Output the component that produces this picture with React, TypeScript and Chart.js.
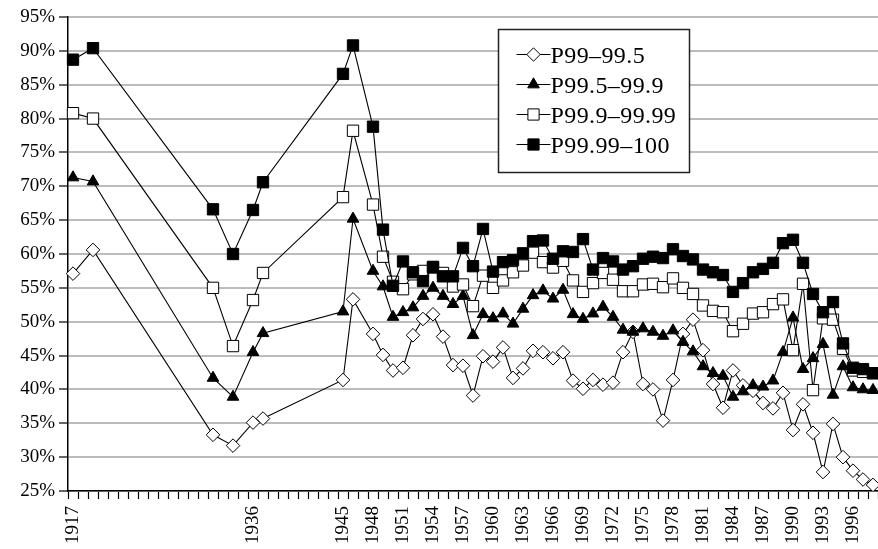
import React, { useEffect, useRef } from 'react';
import { Chart, registerables } from 'chart.js';

Chart.register(...registerables);

// Category axis (one slot per row of the source table)
const categories: string[] = [
  '1917', '1919', '1920', '1921', '1922', '1923', '1924', '1925', '1926', '1927',
  '1928', '1929', '1930', '1931', '1932', '1933', '1934', '1935', '1936', '1937',
  '1938', '1939', '1940', '1941', '1942', '1943', '1944', '1945', '1946', '1947',
  '1948', '1949', '1950', '1951', '1952', '1953', '1954', '1955', '1956', '1957',
  '1958', '1959', '1960', '1961', '1962', '1963', '1964', '1965', '1966', '1967',
  '1968', '1969', '1970', '1971', '1972', '1973', '1974', '1975', '1976', '1977',
  '1978', '1979', '1980', '1981', '1982', '1983', '1984', '1985', '1986', '1987',
  '1988', '1989', '1990', '1991', '1992', '1993', '1994', '1995', '1996', '1997',
  '1998',
];

// Labels that are actually printed under the axis
const tickLabels: string[] = [
  '1917', '1936', '1945', '1948', '1951', '1954', '1957', '1960', '1963', '1966',
  '1969', '1972', '1975', '1978', '1981', '1984', '1987', '1990', '1993', '1996',
];

// Years with data
const dataYears: number[] = [
  1917, 1920, 1932, 1934, 1936, 1937, 1945, 1946, 1948, 1949,
  1950, 1951, 1952, 1953, 1954, 1955, 1956, 1957, 1958, 1959,
  1960, 1961, 1962, 1963, 1964, 1965, 1966, 1967, 1968, 1969,
  1970, 1971, 1972, 1973, 1974, 1975, 1976, 1977, 1978, 1979,
  1980, 1981, 1982, 1983, 1984, 1985, 1986, 1987, 1988, 1989,
  1990, 1991, 1992, 1993, 1994, 1995, 1996, 1997, 1998,
];

const p99_995: number[] = [
  57.1, 60.6, 33.3, 31.7, 35.1, 35.7, 41.4, 53.3, 48.2, 45.1,
  42.8, 43.2, 48.0, 50.4, 51.1, 47.8, 43.6, 43.5, 39.1, 44.9,
  44.1, 46.2, 41.7, 43.1, 45.7, 45.5, 44.6, 45.5, 41.3, 40.1,
  41.4, 40.7, 41.0, 45.5, 48.5, 40.8, 40.0, 35.4, 41.4, 48.2,
  50.3, 45.8, 40.8, 37.3, 42.8, 40.6, 39.8, 38.0, 37.2, 39.5,
  34.0, 37.8, 33.6, 27.8, 34.9, 30.0, 28.0, 26.7, 25.9,
];

const p995_999: number[] = [
  71.3, 70.7, 41.7, 38.9, 45.5, 48.3, 51.5, 65.2, 57.5, 55.2,
  50.7, 51.4, 52.1, 53.8, 55.0, 53.8, 52.6, 53.8, 48.0, 51.1,
  50.5, 51.2, 49.7, 51.9, 53.9, 54.6, 53.4, 54.7, 51.1, 50.4,
  51.2, 52.2, 50.7, 48.8, 48.5, 49.0, 48.5, 47.9, 48.7, 47.0,
  45.6, 43.4, 42.4, 42.0, 38.9, 39.7, 40.6, 40.4, 41.3, 45.5,
  50.6, 43.0, 44.6, 46.7, 39.2, 43.4, 40.3, 40.0, 39.9,
];

const p999_9999: number[] = [
  80.8, 80.0, 55.0, 46.4, 53.2, 57.2, 68.4, 78.2, 67.3, 59.6,
  55.9, 54.8, 57.0, 57.5, 58.0, 57.2, 55.2, 55.5, 52.3, 56.8,
  55.0, 56.1, 57.3, 58.3, 60.2, 58.8, 58.0, 59.0, 56.1, 54.4,
  55.7, 57.2, 56.2, 54.5, 54.5, 55.5, 55.6, 55.1, 56.4, 55.0,
  54.1, 52.4, 51.6, 51.4, 48.6, 49.7, 51.2, 51.4, 52.6, 53.3,
  45.8, 55.6, 39.9, 50.5, 50.3, 46.0, 42.8, 42.6, 42.4,
];

const p9999_100: number[] = [
  88.7, 90.4, 66.6, 60.0, 66.5, 70.6, 86.6, 90.8, 78.8, 63.6,
  55.3, 58.9, 57.3, 56.0, 58.1, 56.7, 56.7, 60.9, 58.2, 63.7,
  57.4, 58.8, 59.1, 60.1, 61.9, 62.0, 59.3, 60.4, 60.3, 62.2,
  57.7, 59.4, 58.9, 57.7, 58.2, 59.3, 59.6, 59.4, 60.7, 59.7,
  59.2, 57.7, 57.3, 56.9, 54.4, 55.7, 57.3, 57.8, 58.7, 61.6,
  62.1, 58.7, 54.1, 51.4, 52.9, 46.8, 43.2, 43.0, 42.4,
];

const seriesNames: string[] = ['P99–99.5', 'P99.5–99.9', 'P99.9–99.99', 'P99.99–100'];

const FONT = "'Liberation Serif', 'DejaVu Serif', serif";

function toSeries(values: number[]): (number | null)[] {
  return categories.map((c) => {
    const i = dataYears.indexOf(Number(c));
    return i >= 0 ? values[i] : null;
  });
}

function drawMarker(ctx: CanvasRenderingContext2D, kind: number, cx: number, cy: number) {
  ctx.beginPath();
  if (kind === 0) {
    const r = 6.7;
    ctx.moveTo(cx - r, cy);
    ctx.lineTo(cx, cy - r);
    ctx.lineTo(cx + r, cy);
    ctx.lineTo(cx, cy + r);
    ctx.closePath();
    ctx.fillStyle = '#fff';
  } else if (kind === 1) {
    const r = 6.7;
    ctx.moveTo(cx, cy - r);
    ctx.lineTo(cx + r * Math.sin((2 * Math.PI) / 3), cy + r * 0.5);
    ctx.lineTo(cx - r * Math.sin((2 * Math.PI) / 3), cy + r * 0.5);
    ctx.closePath();
    ctx.fillStyle = '#000';
  } else {
    const s = 5.6;
    ctx.rect(cx - s, cy - s, 2 * s, 2 * s);
    ctx.fillStyle = kind === 2 ? '#fff' : '#000';
  }
  ctx.fill();
  ctx.strokeStyle = '#000';
  ctx.lineWidth = 1;
  ctx.stroke();
}

const boxLegend = {
  id: 'boxLegend',
  afterDraw(chart: any) {
    const { ctx, chartArea } = chart;
    const left = Math.round(chartArea.left + chartArea.width * 0.531) + 0.5;
    const top = Math.round(chartArea.top + 12) + 0.5;
    const w = 191;
    const h = 143;
    ctx.save();
    ctx.fillStyle = '#fff';
    ctx.fillRect(left, top, w, h);
    ctx.strokeStyle = '#222';
    ctx.lineWidth = 1.5;
    ctx.strokeRect(left, top, w, h);
    seriesNames.forEach((name, i) => {
      const cy = top + 25 + i * 30;
      ctx.beginPath();
      ctx.strokeStyle = '#000';
      ctx.lineWidth = 1;
      ctx.moveTo(left + 18, cy);
      ctx.lineTo(left + 52, cy);
      ctx.stroke();
      drawMarker(ctx, i, left + 35, cy);
      ctx.fillStyle = '#000';
      ctx.font = `24px ${FONT}`;
      try { (ctx as any).letterSpacing = '0.4px'; } catch (e) { /* ignore */ }
      ctx.textBaseline = 'middle';
      ctx.textAlign = 'left';
      ctx.fillText(name, left + 52, cy + 2);
      try { (ctx as any).letterSpacing = '0px'; } catch (e) { /* ignore */ }
    });
    ctx.restore();
  },
};

export default function App() {
  const canvasRef = useRef<HTMLCanvasElement | null>(null);

  useEffect(() => {
    if (!canvasRef.current) return;
    Chart.defaults.font.family = FONT;
    Chart.defaults.color = '#000';

    const common = {
      borderColor: '#000',
      borderWidth: 1.1,
      pointBorderColor: '#000',
      pointBorderWidth: 1,
      spanGaps: true,
      tension: 0,
    };

    const chart = new Chart(canvasRef.current, {
      type: 'line',
      data: {
        labels: categories,
        datasets: [
          { ...common, label: seriesNames[0], data: toSeries(p99_995), pointStyle: 'rectRot', pointRadius: 6.8, pointBackgroundColor: '#fff', order: 4 },
          { ...common, label: seriesNames[1], data: toSeries(p995_999), pointStyle: 'triangle', pointRadius: 6.7, pointBackgroundColor: '#000', order: 3 },
          { ...common, label: seriesNames[2], data: toSeries(p999_9999), pointStyle: 'rect', pointRadius: 8, pointBackgroundColor: '#fff', order: 2 },
          { ...common, label: seriesNames[3], data: toSeries(p9999_100), pointStyle: 'rect', pointRadius: 8, pointBackgroundColor: '#000', order: 1 },
        ],
      },
      options: {
        responsive: false,
        animation: false,
        events: [],
        layout: { autoPadding: false, padding: { top: 17, right: 0, left: 0, bottom: 0 } },
        plugins: {
          legend: { display: false },
          tooltip: { enabled: false },
        },
        scales: {
          x: {
            type: 'category',
            offset: true,
            grid: {
              offset: true,
              drawOnChartArea: false,
              drawTicks: true,
              tickLength: 8,
              tickColor: '#000',
              tickWidth: 1.2,
              color: '#000',
            },
            border: { color: '#000', width: 1.5 },
            ticks: {
              autoSkip: false,
              maxRotation: 90,
              minRotation: 90,
              padding: 7,
              font: { size: 19, family: FONT },
              color: '#000',
              callback: (_v: any, index: number) => {
                const lab = categories[index];
                return tickLabels.includes(lab) ? lab : '';
              },
            },
            afterFit: (scale: any) => {
              scale.height = 58;
              scale.paddingLeft = 0;
              scale.paddingRight = 0;
            },
          },
          y: {
            min: 25,
            max: 95,
            ticks: {
              stepSize: 5,
              padding: 4,
              font: { size: 19, family: FONT },
              color: '#000',
              callback: (v: any) => `${v}%`,
            },
            grid: {
              color: '#bcbcbc',
              lineWidth: 2,
              tickLength: 9,
              tickColor: '#000',
              tickWidth: 1.2,
            },
            border: { color: '#000', width: 1.5 },
            afterFit: (scale: any) => {
              scale.width = 68;
              scale.paddingTop = 0;
              scale.paddingBottom = 0;
            },
          },
        },
      },
      plugins: [boxLegend],
    } as any);

    return () => chart.destroy();
  }, []);

  return (
    <div style={{ position: 'fixed', left: 0, top: 0, width: 878, height: 549, background: '#fff' }}>
      <canvas ref={canvasRef} width={878} height={549} style={{ display: 'block' }} />
    </div>
  );
}
